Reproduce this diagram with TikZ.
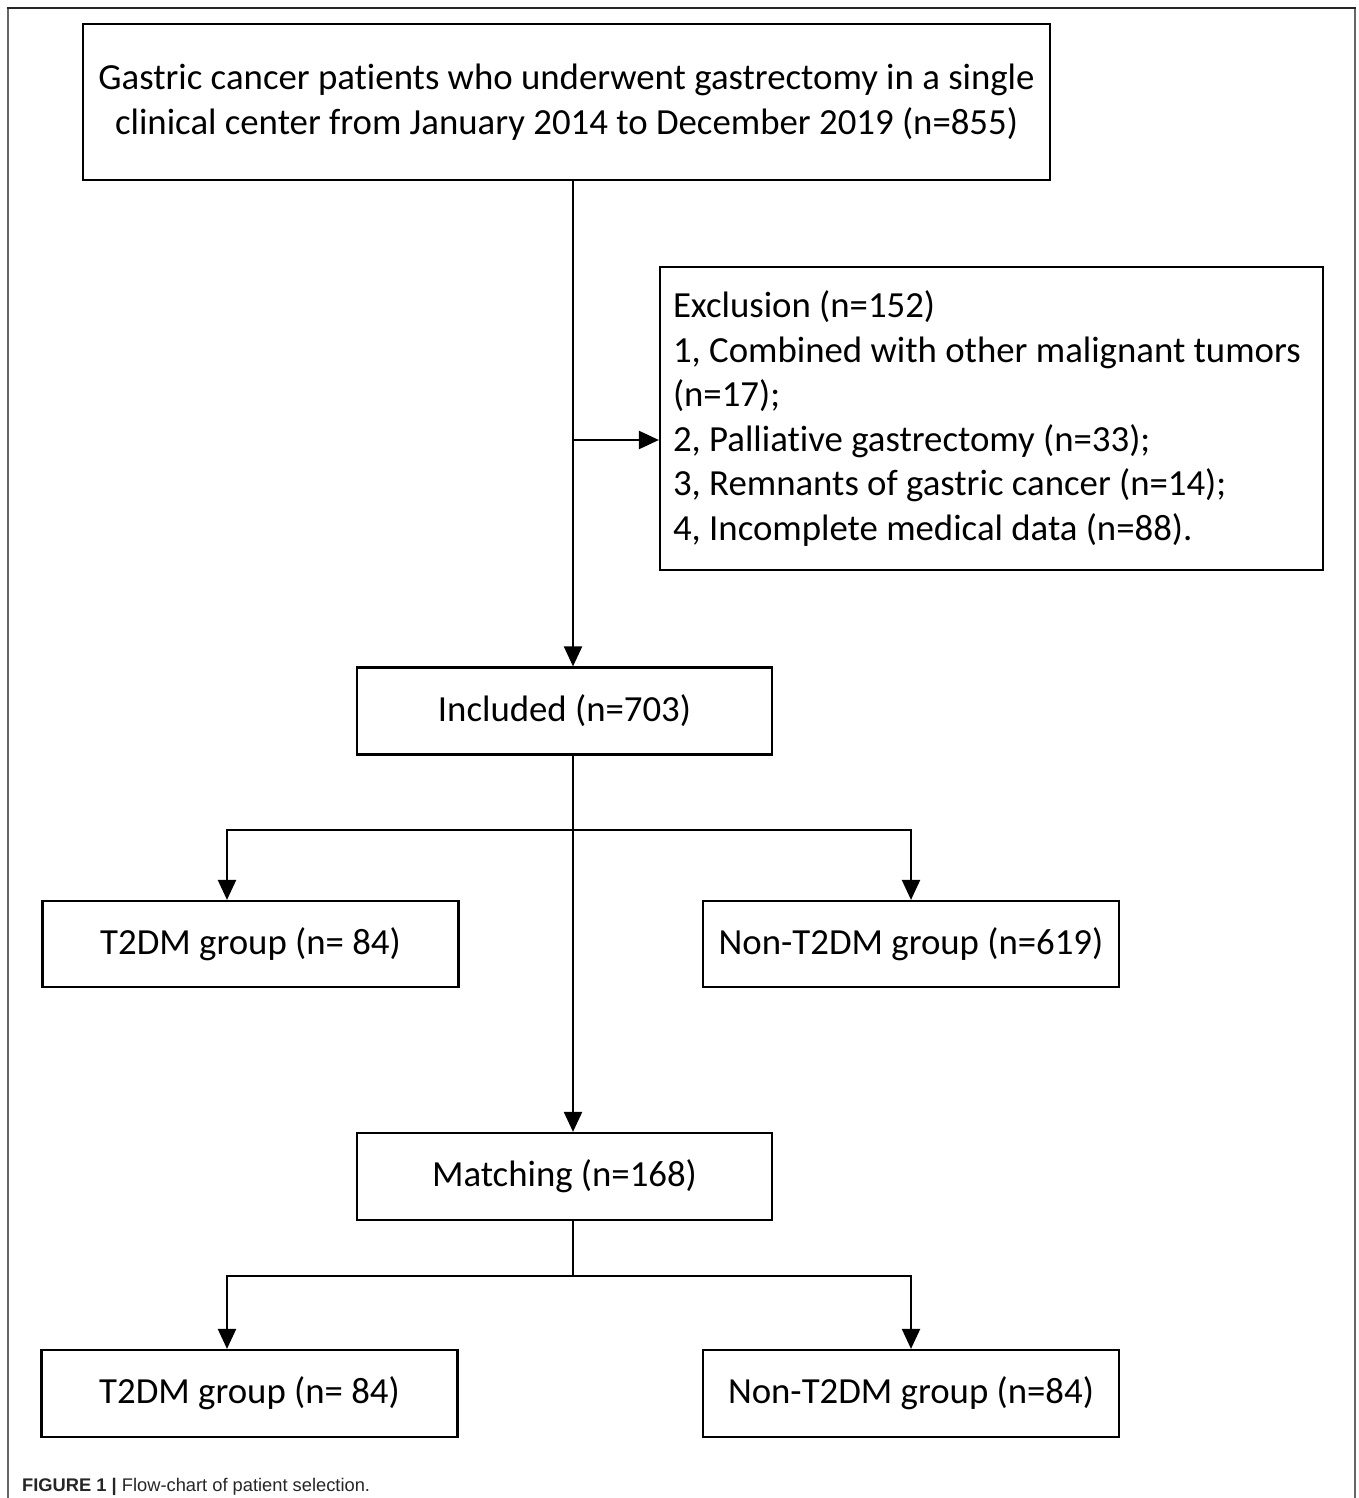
\documentclass[tikz,border=0pt]{standalone}
\usepackage{fontspec}
\setmainfont{Carlito}[Ligatures=NoCommon]
\newfontfamily\capfont{Liberation Sans}
\usetikzlibrary{arrows.meta}
\begin{document}
\begin{tikzpicture}[x=1pt,y=-1pt,
  box/.style={draw, line width=2.2pt, inner sep=0pt, font=\fontsize{36.8}{44.5}\selectfont, align=center},
  conn/.style={line width=2.2pt, -{Triangle[length=20pt,width=18pt]}},
  ln/.style={line width=2.2pt}]
\useasboundingbox (0,0) rectangle (1358,1498);
% frame
\draw[gray!80!black, line width=2pt] (7.5,1498) -- (7.5,8);
\draw[gray!80!black, line width=2.5pt] (1355,1498) -- (1355,8);
\draw[black!85, line width=2pt] (6.5,8) -- (1356,8);
% nodes
\node[box, minimum width=967pt, minimum height=156pt] (top) at (566.5,102)
  {Gastric cancer patients who underwent gastrectomy in a single\\clinical center from January 2014 to December 2019 (n=855)};
\node[box, align=flush left, text width=637pt, inner xsep=13pt, minimum height=303pt] (excl) at (991.5,418.5)
  {Exclusion (n=152)\\1, Combined with other malignant tumors\\(n=17);\\2, Palliative gastrectomy (n=33);\\3, Remnants of gastric cancer (n=14);\\4, Incomplete medical data (n=88).};
\node[box, minimum width=415pt, minimum height=87pt] (included) at (564.5,711) {Included (n=703)};
\node[box, minimum width=416pt, minimum height=86pt] (t2dmA) at (250.5,944) {T2DM group (n= 84)};
\node[box, minimum width=416pt, minimum height=86pt] (nonA) at (911,944) {Non-T2DM group (n=619)};
\node[box, minimum width=415pt, minimum height=87pt] (matching) at (564.5,1176.5) {Matching (n=168)};
\node[box, minimum width=416pt, minimum height=87pt] (t2dmB) at (249.5,1393.5) {T2DM group (n= 84)};
\node[box, minimum width=416pt, minimum height=87pt] (nonB) at (911,1393.5) {Non-T2DM group (n=84)};
\node[anchor=base west, inner sep=0pt, font=\capfont\fontsize{18.3}{22}\selectfont, text=black!85] (cap) at (22,1491)
  {\textbf{FIGURE 1 |} Flow-chart of patient selection.};
% coordinates
\coordinate (spine) at (573,0);
\coordinate (lb) at (227,0);
\coordinate (branch) at (573,440);
\coordinate (splitA) at (573,830);
\coordinate (splitB) at (573,1276);
% connectors
\draw[conn] (top.south -| spine) -- (included.north -| spine);
\draw[conn] (branch) -- (branch -| excl.west);
\draw[conn] (included.south -| spine) -- (matching.north -| spine);
\draw[conn] (splitA) -| (lb |- t2dmA.north);
\draw[conn] (splitA) -| (nonA.north);
\draw[ln] (matching.south -| spine) -- (splitB);
\draw[conn] (splitB) -| (lb |- t2dmB.north);
\draw[conn] (splitB) -| (nonB.north);
\end{tikzpicture}
\end{document}
